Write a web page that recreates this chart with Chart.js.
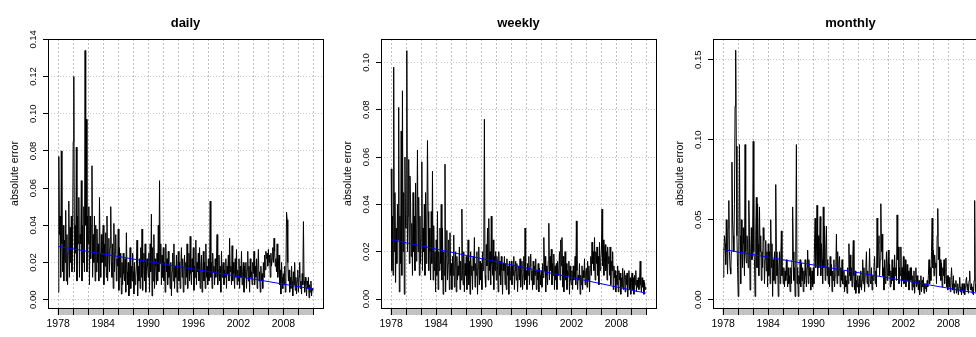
<!DOCTYPE html>
<html>
<head>
<meta charset="utf-8">
<script src="https://cdn.jsdelivr.net/npm/chart.js@4.4.1/dist/chart.umd.min.js"></script>
<style>
  body { margin: 0; background: #fff; }
  #wrap { position: relative; width: 976px; height: 337px; overflow: hidden; }
  #wrap canvas { position: absolute; top: 0; }
</style>
</head>
<body>
<div id="wrap">
  <canvas id="daily" width="332" height="337" style="left:0"></canvas>
  <canvas id="weekly" width="332" height="337" style="left:333px"></canvas>
  <canvas id="monthly" width="332" height="337" style="left:665px"></canvas>
</div>
<script>
Chart.defaults.font.family = "'Liberation Sans', Arial, Helvetica, sans-serif";
Chart.defaults.color = "#000";

const gridYears = [1978, 1980, 1982, 1984, 1986, 1988, 1990, 1992, 1994, 1996, 1998, 2000, 2002, 2004, 2006, 2008, 2010, 2012];
const labelYears = [1978, 1984, 1990, 1996, 2002, 2008];
const trendYears = [1978, 2011.917];

// monthly absolute errors, Jan 1978 .. Dec 2011, one row per year
const dailyErr = [
  .004,.077,.035,.045,.012,.080,.030,.015,.040,.010,.032,.020,
  .048,.010,.035,.008,.025,.053,.012,.039,.020,.045,.015,.030,
  .085,.120,.015,.040,.025,.082,.010,.045,.030,.055,.012,.035,
  .030,.064,.010,.040,.020,.050,.015,.134,.040,.097,.015,.045,
  .030,.050,.008,.045,.022,.040,.072,.012,.035,.020,.045,.010,
  .040,.015,.038,.020,.030,.010,.055,.025,.012,.035,.020,.028,
  .040,.008,.030,.018,.036,.012,.045,.010,.025,.033,.015,.028,
  .050,.020,.012,.030,.006,.041,.015,.025,.035,.010,.022,.018,
  .038,.005,.028,.012,.025,.003,.020,.008,.025,.014,.010,.022,
  .004,.036,.015,.008,.020,.002,.012,.028,.006,.018,.010,.025,
  .015,.003,.020,.008,.012,.018,.032,.002,.018,.010,.022,.006,
  .028,.012,.038,.005,.020,.025,.010,.030,.004,.015,.022,.018,
  .012,.025,.004,.030,.015,.046,.002,.028,.010,.035,.006,.022,
  .018,.008,.025,.010,.040,.015,.064,.020,.030,.008,.024,.012,
  .028,.010,.020,.004,.030,.015,.022,.008,.026,.012,.018,.006,
  .020,.002,.015,.025,.010,.030,.006,.018,.012,.024,.004,.016,
  .026,.010,.020,.006,.018,.028,.012,.022,.004,.016,.024,.008,
  .020,.012,.030,.006,.018,.025,.010,.034,.014,.008,.022,.015,
  .028,.005,.018,.012,.032,.008,.020,.015,.025,.010,.028,.006,
  .018,.024,.004,.015,.026,.010,.020,.006,.030,.012,.018,.008,
  .022,.010,.016,.053,.012,.020,.006,.025,.015,.018,.008,.022,
  .012,.020,.035,.008,.016,.024,.010,.018,.004,.026,.012,.018,
  .020,.008,.016,.012,.022,.006,.018,.014,.024,.010,.033,.015,
  .018,.008,.029,.010,.020,.014,.006,.022,.012,.027,.008,.016,
  .010,.022,.006,.018,.012,.026,.008,.015,.020,.004,.018,.012,
  .020,.006,.016,.026,.010,.018,.004,.022,.012,.015,.008,.020,
  .014,.026,.008,.018,.012,.022,.006,.016,.027,.010,.015,.004,
  .018,.010,.014,.006,.020,.012,.024,.016,.026,.022,.025,.018,
  .027,.020,.024,.012,.025,.018,.022,.028,.020,.033,.026,.018,
  .022,.015,.030,.012,.018,.024,.008,.016,.003,.020,.012,.006,
  .014,.008,.018,.004,.012,.047,.043,.020,.010,.016,.004,.012,
  .006,.018,.010,.002,.015,.008,.020,.005,.012,.003,.010,.016,
  .004,.012,.020,.006,.010,.003,.014,.008,.042,.010,.004,.012,
  .008,.002,.010,.006,.012,.001,.008,.004,.010,.002,.006,.005
];
const weeklyErr = [
  .055,.012,.035,.010,.098,.020,.045,.007,.030,.015,.040,.025,
  .081,.003,.035,.015,.071,.010,.088,.020,.045,.002,.060,.030,
  .030,.105,.020,.035,.059,.015,.052,.040,.018,.032,.010,.045,
  .020,.035,.012,.049,.016,.030,.063,.020,.043,.010,.035,.015,
  .025,.058,.012,.030,.020,.040,.010,.045,.015,.030,.067,.037,
  .012,.030,.020,.008,.037,.015,.054,.008,.031,.012,.020,.003,
  .025,.010,.037,.004,.020,.012,.030,.015,.040,.008,.030,.002,
  .020,.010,.057,.003,.018,.029,.008,.015,.025,.004,.028,.010,
  .015,.004,.018,.010,.027,.005,.012,.020,.003,.018,.008,.014,
  .010,.022,.004,.016,.008,.038,.012,.006,.020,.003,.015,.010,
  .018,.004,.012,.025,.006,.016,.002,.020,.010,.014,.004,.018,
  .012,.026,.005,.015,.010,.020,.002,.013,.022,.006,.016,.008,
  .015,.004,.020,.012,.018,.076,.010,.005,.023,.014,.030,.008,
  .034,.012,.020,.006,.035,.015,.010,.025,.004,.018,.012,.020,
  .008,.018,.014,.003,.020,.010,.016,.006,.018,.012,.002,.015,
  .012,.018,.006,.015,.004,.017,.010,.014,.002,.016,.008,.012,
  .016,.006,.014,.010,.018,.004,.012,.016,.008,.015,.003,.010,
  .014,.008,.017,.005,.012,.016,.004,.010,.018,.006,.030,.008,
  .012,.004,.015,.010,.018,.006,.014,.019,.008,.012,.004,.016,
  .006,.014,.010,.017,.004,.012,.008,.015,.003,.013,.010,.006,
  .012,.005,.015,.009,.026,.012,.018,.003,.014,.010,.006,.016,
  .032,.008,.018,.012,.021,.006,.015,.010,.019,.004,.014,.008,
  .015,.004,.016,.010,.012,.020,.008,.025,.014,.026,.005,.018,
  .003,.012,.020,.008,.015,.004,.012,.010,.016,.002,.014,.008,
  .006,.012,.004,.014,.008,.010,.018,.006,.033,.012,.004,.010,
  .008,.015,.002,.010,.006,.014,.004,.012,.009,.017,.006,.011,
  .013,.005,.016,.008,.014,.003,.012,.018,.010,.024,.015,.020,
  .012,.026,.008,.020,.015,.022,.010,.018,.006,.024,.012,.016,
  .020,.038,.014,.025,.010,.018,.023,.012,.020,.008,.022,.015,
  .018,.010,.022,.006,.016,.012,.020,.004,.014,.009,.012,.003,
  .010,.006,.014,.003,.012,.008,.011,.002,.009,.005,.013,.004,
  .008,.012,.003,.010,.006,.011,.001,.008,.012,.004,.009,.002,
  .007,.011,.004,.009,.002,.010,.006,.012,.003,.008,.005,.009,
  .004,.008,.016,.006,.003,.009,.005,.008,.002,.007,.004,.005
];
const monthlyErr = [
  .014,.028,.040,.035,.022,.050,.030,.016,.045,.062,.030,.020,
  .016,.030,.086,.050,.040,.030,.060,.121,.156,.096,.040,.020,
  .002,.030,.097,.040,.010,.050,.030,.020,.045,.035,.015,.097,
  .030,.023,.040,.035,.020,.062,.040,.006,.030,.045,.025,.035,
  .099,.030,.025,.002,.040,.064,.020,.060,.035,.015,.058,.030,
  .040,.012,.030,.020,.045,.037,.010,.025,.037,.018,.030,.008,
  .035,.015,.030,.010,.050,.020,.035,.002,.025,.012,.030,.010,
  .072,.030,.015,.025,.002,.020,.030,.010,.025,.043,.015,.020,
  .010,.020,.008,.018,.012,.025,.015,.008,.020,.010,.015,.005,
  .020,.010,.025,.058,.030,.012,.020,.002,.030,.097,.010,.020,
  .002,.015,.010,.025,.008,.023,.012,.020,.005,.018,.010,.025,
  .015,.008,.020,.031,.010,.025,.015,.020,.006,.012,.018,.008,
  .020,.010,.035,.051,.020,.030,.059,.015,.040,.020,.030,.052,
  .015,.035,.025,.010,.058,.020,.046,.012,.030,.046,.015,.025,
  .010,.020,.008,.027,.015,.022,.005,.018,.012,.025,.008,.015,
  .020,.041,.010,.030,.015,.022,.027,.008,.020,.012,.025,.010,
  .010,.018,.005,.015,.008,.012,.004,.020,.010,.035,.015,.028,
  .012,.020,.008,.025,.037,.015,.006,.018,.004,.012,.008,.015,
  .010,.004,.015,.008,.018,.006,.012,.025,.010,.020,.005,.015,
  .020,.030,.010,.018,.008,.015,.032,.012,.010,.020,.006,.015,
  .012,.020,.027,.010,.018,.008,.051,.020,.035,.040,.015,.025,
  .060,.030,.041,.015,.020,.006,.025,.010,.018,.030,.012,.020,
  .031,.015,.022,.008,.018,.010,.025,.012,.020,.006,.028,.015,
  .020,.012,.053,.025,.033,.010,.020,.015,.033,.008,.020,.012,
  .027,.010,.018,.025,.008,.015,.022,.012,.018,.006,.015,.020,
  .012,.020,.006,.015,.008,.018,.004,.012,.020,.008,.015,.010,
  .006,.012,.003,.010,.015,.005,.012,.008,.014,.004,.010,.007,
  .010,.005,.012,.008,.015,.025,.010,.020,.012,.030,.051,.020,
  .031,.015,.028,.020,.023,.010,.040,.057,.025,.033,.015,.025,
  .012,.023,.008,.020,.015,.025,.010,.018,.026,.008,.015,.006,
  .015,.008,.014,.005,.012,.020,.010,.006,.015,.004,.010,.008,
  .012,.004,.006,.010,.003,.008,.014,.005,.008,.003,.010,.006,
  .004,.010,.003,.008,.012,.014,.006,.010,.004,.012,.018,.008,
  .006,.010,.004,.008,.003,.012,.062,.010,.005,.008,.004,.006
];

// fitted linear trend, value at first and last month
const dailyTrend = [0.0286, 0.0057];
const weeklyTrend = [0.0251, 0.0025];
const monthlyTrend = [0.0314, 0.0040];

const dailyTicks = [0, 0.02, 0.04, 0.06, 0.08, 0.10, 0.12, 0.14];
const weeklyTicks = [0, 0.02, 0.04, 0.06, 0.08, 0.10];
const monthlyTicks = [0, 0.05, 0.10, 0.15];

const months = dailyErr.map((_, i) => 1978 + i / 12);

// R-style extras: box around the plot, title over the plot region, rotated y labels
const panelText = {
  id: "panelText",
  afterDraw(chart, args, opts) {
    const { ctx, chartArea: area } = chart;
    const yScale = chart.scales.y;
    ctx.save();
    ctx.strokeStyle = "#000";
    ctx.lineWidth = 1;
    ctx.strokeRect(
      Math.round(area.left) + 0.5,
      Math.round(area.top) + 0.5,
      Math.round(area.right - area.left),
      Math.round(area.bottom - area.top)
    );

    ctx.fillStyle = "#000";
    ctx.textAlign = "center";
    ctx.font = "bold 13px 'Liberation Sans', Arial, sans-serif";
    ctx.textBaseline = "alphabetic";
    ctx.fillText(opts.title, (area.left + area.right) / 2, area.top - 12.5);

    ctx.font = "9.5px 'Liberation Sans', Arial, sans-serif";
    ctx.textBaseline = "middle";
    yScale.ticks.forEach((t) => {
      ctx.save();
      ctx.translate(area.left - 14.5, yScale.getPixelForValue(t.value));
      ctx.rotate(-Math.PI / 2);
      ctx.fillText(t.value.toFixed(2), 0, 0);
      ctx.restore();
    });
    ctx.restore();
  },
};

function makePanel(id, title, values, trend, yTicks, yMin, yMax) {
  const rugTicks = months.map((v) => ({ value: v, rug: true }));
  return new Chart(document.getElementById(id), {
    type: "line",
    data: {
      datasets: [
        {
          label: "trend",
          data: trendYears.map((x, i) => ({ x, y: trend[i] })),
          borderColor: "#0000ff",
          borderWidth: 1,
          pointRadius: 0,
        },
        {
          label: title,
          data: months.map((x, i) => ({ x, y: values[i] })),
          borderColor: "#000",
          borderWidth: 1,
          pointRadius: 0,
        },
      ],
    },
    options: {
      responsive: false,
      animation: false,
      layout: { padding: { top: 39, right: 9, left: 0, bottom: 0 } },
      plugins: {
        legend: { display: false },
        tooltip: { enabled: false },
        panelText: { title },
      },
      scales: {
        x: {
          type: "linear",
          min: 1976.643,
          max: 2013.274,
          afterBuildTicks: (s) => {
            s.ticks = rugTicks.concat(gridYears.map((v) => ({ value: v })));
          },
          afterFit: (s) => {
            s.height = 29;
          },
          ticks: {
            autoSkip: false,
            maxRotation: 0,
            minRotation: 0,
            padding: 3,
            font: { size: 10.5 },
            callback: (v, i, ticks) =>
              !ticks[i].rug && labelYears.includes(v) ? String(v) : "",
          },
          grid: {
            lineWidth: (c) => (c.tick && c.tick.rug ? 0 : 1),
            color: "#c0c0c0",
            tickLength: 7,
            tickWidth: 1,
            tickColor: (c) => (c.tick && c.tick.rug ? "#bbbbbb" : "#000"),
            tickBorderDash: [],
          },
          border: { display: false, dash: [2, 2] },
        },
        y: {
          min: yMin,
          max: yMax,
          afterBuildTicks: (s) => {
            s.ticks = yTicks.map((v) => ({ value: v }));
          },
          afterFit: (s) => {
            s.width = 48;
          },
          ticks: { display: false },
          title: {
            display: true,
            text: "absolute error",
            font: { size: 10.5 },
            padding: { top: 9, bottom: 0 },
          },
          grid: {
            color: "#c8c8c8",
            tickLength: 5,
            tickWidth: 1,
            tickColor: "#000",
            tickBorderDash: [],
          },
          border: { display: false, dash: [1, 2] },
        },
      },
    },
    plugins: [panelText],
  });
}

makePanel("daily", "daily", dailyErr, dailyTrend, dailyTicks, -0.0045, 0.1402);
makePanel("weekly", "weekly", weeklyErr, weeklyTrend, weeklyTicks, -0.0038, 0.1099);
makePanel("monthly", "monthly", monthlyErr, monthlyTrend, monthlyTicks, -0.0052, 0.163);
</script>
</body>
</html>
